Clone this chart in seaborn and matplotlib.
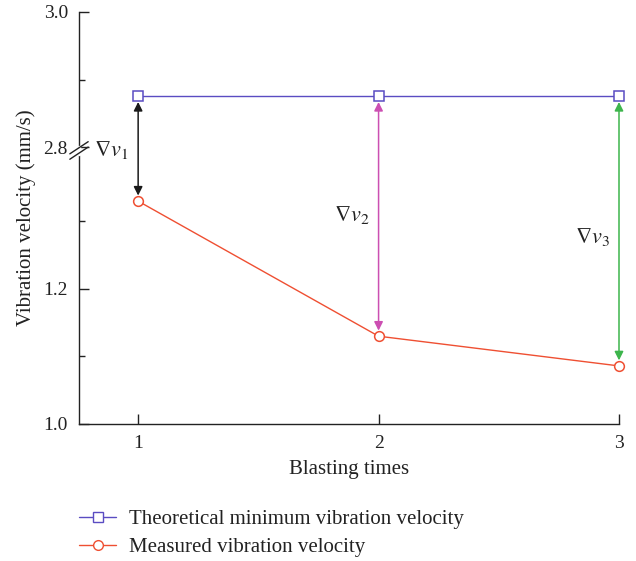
import numpy as np
import pandas as pd
import matplotlib
matplotlib.use("Agg")
import matplotlib.pyplot as plt
from matplotlib.lines import Line2D
import seaborn as sns

# Data
blasts = [1, 2, 3]
theoretical = [2.875, 2.875, 2.875]
measured = [1.330, 1.130, 1.086]
delta_labels = [r"$\nabla v_1$", r"$\nabla v_2$", r"$\nabla v_3$"]
series_names = ["Theoretical minimum vibration velocity", "Measured vibration velocity"]
ytick_values = [1.0, 1.2, 2.8, 3.0]
yminor_values = [1.1, 1.3, 2.9]

# Broken y axis: values above the break are shifted down
BREAK_HIGH, SHIFT = 2.8, 1.39


def t(v):
    v = np.asarray(v, dtype=float)
    return np.where(v >= BREAK_HIGH - 1e-9, v - SHIFT, v)


sns.set_theme(style="ticks")
plt.rcParams["font.family"] = ["Liberation Serif", "DejaVu Serif"]
plt.rcParams["mathtext.fontset"] = "stix"

fig = plt.figure(figsize=(6.36, 5.61), dpi=100)
ax = fig.add_axes([79 / 636, 1 - 424 / 561, 540 / 636, 412 / 561])

df = pd.DataFrame({
    "blast": blasts * 2,
    "value": list(t(theoretical)) + list(t(measured)),
    "series": [series_names[0]] * 3 + [series_names[1]] * 3,
})

palette = {series_names[0]: "#5a4cc2", series_names[1]: "#ef4f32"}
sns.lineplot(data=df, x="blast", y="value", hue="series", style="series",
             markers={series_names[0]: "s", series_names[1]: "o"}, dashes=False,
             palette=palette, ax=ax, linewidth=1.0, markersize=7,
             legend=False)
for ln in ax.lines:
    ln.set_markerfacecolor("white")
    ln.set_markeredgecolor(ln.get_color())
    ln.set_markeredgewidth(1.1)
    ln.set_zorder(4)
    ln.set_clip_on(False)

# Difference arrows with labels
arrow_colors = ["#1a1a1a", "#cc4fb2", "#3db54c"]
label_pos = [(0.8875, 1.406), (1.8875, 1.310), (2.89, 1.277)]
for x, th, me, c, lab, (lx, ly) in zip(blasts, theoretical, measured, arrow_colors,
                                        delta_labels, label_pos):
    ax.annotate("", xy=(x, float(t(me))), xytext=(x, float(t(th))),
                arrowprops=dict(arrowstyle="<|-|>", color=c, lw=1.1,
                                shrinkA=4, shrinkB=4, mutation_scale=13))
    ax.text(lx, ly, lab, fontsize=16, ha="center", va="center", color="#222222")

ax.set_xlim(0.754, 3.0)
ax.set_ylim(1.0, float(t(3.0)))
ax.set_xticks(blasts)
ax.set_xticklabels([str(b) for b in blasts])
ax.set_yticks(t(ytick_values))
ax.set_yticklabels([f"{v:.1f}" for v in ytick_values])
ax.set_yticks(t(yminor_values), minor=True)
ax.tick_params(axis="both", which="major", direction="in", length=7, width=1,
               labelsize=14, colors="#222222", pad=8)
ax.tick_params(axis="y", which="minor", direction="in", length=4, width=1, colors="#222222")
ax.tick_params(axis="x", which="minor", length=0)
ax.set_xlabel("Blasting times", fontsize=15, color="#222222", labelpad=6)
ax.set_ylabel("Vibration velocity (mm/s)", fontsize=15, color="#222222", labelpad=5)
for side in ["top", "right"]:
    ax.spines[side].set_visible(False)
for side in ["left", "bottom"]:
    ax.spines[side].set_color("#222222")
    ax.spines[side].set_linewidth(1.0)

# Axis break marks on the left spine
yb = (float(t(2.8)) + 1.4) / 2
trans = ax.get_yaxis_transform()
dx = 0.017
ax.plot([0.0, 0.0], [yb - 0.005, yb + 0.005], transform=trans, color="white",
        lw=2.5, clip_on=False, zorder=5)
for off in (-0.004, 0.004):
    ax.plot([-dx, dx], [yb + off - 0.009, yb + off + 0.009], transform=trans,
            color="#222222", lw=1.0, clip_on=False, zorder=6)

# Legend below the axes
handles = [
    Line2D([], [], color=palette[series_names[0]], marker="s", markerfacecolor="white",
           markersize=7, lw=1.0),
    Line2D([], [], color=palette[series_names[1]], marker="o", markerfacecolor="white",
           markersize=7, lw=1.0),
]
fig.legend(handles, series_names, loc="upper left", bbox_to_anchor=(60 / 636, 1 - 491 / 561),
           frameon=False, fontsize=15, handlelength=1.8, handletextpad=0.6,
           labelspacing=0.4, labelcolor="#222222")

fig.savefig("out.png", dpi=100)
